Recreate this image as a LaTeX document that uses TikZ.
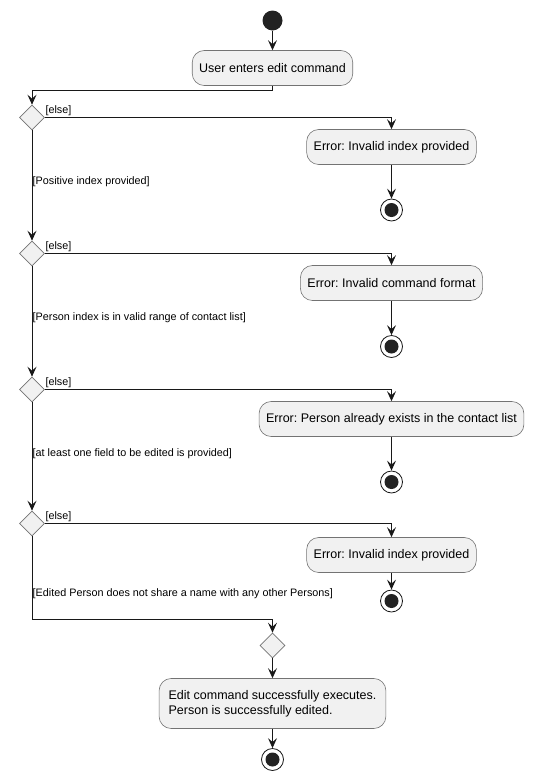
\documentclass[tikz,border=0pt]{standalone}
\usepackage{fontspec}
\setmainfont{Liberation Sans}
\usetikzlibrary{arrows.meta,shapes.geometric,positioning}
\definecolor{actfill}{HTML}{F1F1F1}
\definecolor{actline}{HTML}{181818}
\definecolor{dotfill}{HTML}{222222}
\frenchspacing
\tikzset{
  action/.style={draw=black!55, line width=0.6pt, fill=actfill, rounded corners=12pt,
    minimum height=35pt, inner xsep=7pt, font=\fontsize{12.5}{15}\selectfont},
  choice/.style={diamond, draw=black!55, line width=0.6pt, fill=actfill,
    minimum width=25pt, minimum height=25pt, inner sep=0pt},
  startdot/.style={circle, fill=dotfill, minimum size=20pt, inner sep=0pt},
  stopdot/.style={circle, draw=actline, line width=0.8pt, fill=white, minimum size=22pt, inner sep=0pt,
    path picture={\fill[dotfill] (path picture bounding box.center) circle (7pt);}},
  guard/.style={font=\fontsize{10.8}{13}\selectfont, inner sep=0.5pt},
  flow/.style={draw=actline, line width=0.9pt, -{Stealth[length=10pt,width=9pt,inset=4pt]}}
}
\begin{document}
\begin{tikzpicture}[x=1pt,y=-1pt]
  \useasboundingbox (0,0) rectangle (534,780);
  % start and first action
  \node[startdot] (start) at (272.5,20.5) {};
  \node[action] (enter) at (272.5,68) {User enters edit command};
  % checks, one per row
  \node[choice] (c1) at (32,117.5) {};
  \node[action] (err1) at (391.5,147) {Error: Invalid index provided};
  \node[stopdot] (stop1) at (391.5,210) {};
  \node[choice] (c2) at (32,253.5) {};
  \node[action] (err2) at (391.5,283) {Error: Invalid command format};
  \node[stopdot] (stop2) at (391.5,346.5) {};
  \node[choice] (c3) at (32,389.5) {};
  \node[action] (err3) at (391.5,419) {Error: Person already exists in the contact list};
  \node[stopdot] (stop3) at (391.5,482) {};
  \node[choice] (c4) at (32,523.5) {};
  \node[action] (err4) at (391.5,555) {Error: Invalid index provided};
  \node[stopdot] (stop4) at (391.5,601) {};
  % merge and success
  \node[choice] (merge) at (272.5,645.5) {};
  \node[action, align=left, minimum height=50pt, inner xsep=9.5pt] (done) at (272.5,703.5)
    {Edit command successfully executes.\\Person is successfully edited.};
  \node[stopdot] (stop5) at (272.5,759.5) {};
  % bend points
  \coordinate (split) at (32,90);
  \coordinate (join) at (32,619.5);
  % connectors
  \draw[flow] (start) -- (enter);
  \draw[flow] (enter.south) |- (split) -- (c1.north);
  \foreach \c/\e/\s in {c1/err1/stop1,c2/err2/stop2,c3/err3/stop3,c4/err4/stop4}{
    \draw[flow] (\c.east) -| (\e.north);
    \draw[flow] (\e) -- (\s);
    \node[guard, anchor=south west] at ([yshift=1pt]\c.east) {[else]};
  }
  \draw[flow] (c1.south) -- (c2.north);
  \draw[flow] (c2.south) -- (c3.north);
  \draw[flow] (c3.south) -- (c4.north);
  \draw[flow] (c4.south) -- (join) -| (merge.north);
  \draw[flow] (merge) -- (done);
  \draw[flow] (done) -- (stop5);
  % guards on the main line
  \node[guard, anchor=west] (g1) at (32,182) {[Positive index provided]};
  \node[guard, anchor=west] (g2) at (32,317.5) {[Person index is in valid range of contact list]};
  \node[guard, anchor=west] (g3) at (32,453.5) {[at least one field to be edited is provided]};
  \node[guard, anchor=west] (g4) at (32,594) {[Edited Person does not share a name with any other Persons]};
\end{tikzpicture}
\end{document}
